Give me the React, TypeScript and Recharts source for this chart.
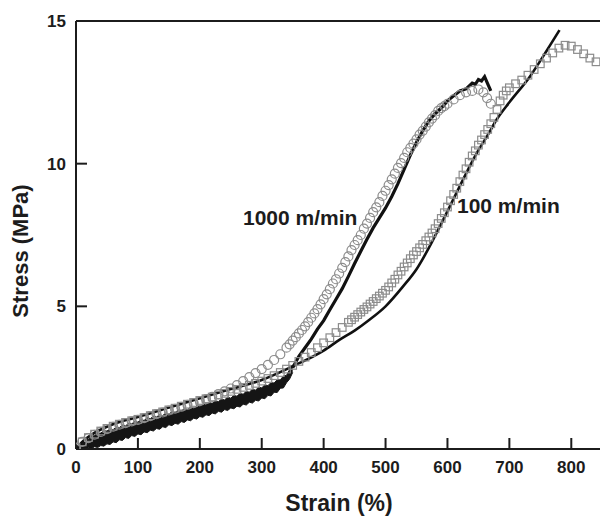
import React from 'react'
import { ComposedChart, Line, Area, XAxis, YAxis } from 'recharts'

// open circles, 1000 m/min sample
const circlePts = [
  [0, 0.05], [10, 0.25], [20, 0.38], [30, 0.5], [40, 0.6], [50, 0.7], [60, 0.78], [70, 0.85],
  [80, 0.91], [90, 0.97], [100, 1.02], [110, 1.08], [120, 1.15], [130, 1.22], [140, 1.28], [150, 1.35],
  [160, 1.41], [170, 1.48], [180, 1.55], [190, 1.61], [200, 1.68], [210, 1.75], [220, 1.83], [230, 1.92],
  [240, 2.02], [250, 2.12], [260, 2.24], [270, 2.38], [280, 2.52], [290, 2.66], [300, 2.8], [310, 2.95],
  [320, 3.12], [330, 3.32], [340, 3.55], [345, 3.67], [350, 3.8], [355, 3.92], [360, 4.05], [365, 4.17],
  [370, 4.3], [375, 4.45], [380, 4.6], [385, 4.75], [390, 4.9], [395, 5.07], [400, 5.25], [405, 5.42],
  [410, 5.6], [415, 5.8], [420, 5.95], [425, 6.15], [430, 6.35], [435, 6.55], [440, 6.75], [445, 6.97],
  [450, 7.15], [455, 7.32], [460, 7.5], [465, 7.72], [470, 7.9], [475, 8.1], [480, 8.3], [485, 8.47],
  [490, 8.65], [495, 8.87], [500, 9.05], [505, 9.25], [510, 9.45], [515, 9.65], [520, 9.85], [525, 10.02],
  [530, 10.2], [535, 10.4], [540, 10.55], [545, 10.7], [550, 10.85], [555, 11.02], [560, 11.15],
  [565, 11.3], [570, 11.45], [575, 11.58], [580, 11.7], [585, 11.85], [590, 11.95], [595, 12.02],
  [600, 12.1], [610, 12.25], [620, 12.4], [630, 12.5], [640, 12.55], [650, 12.6], [658, 12.5],
  [664, 12.3], [670, 12.1],
]

// open squares, 100 m/min sample
const squarePts = [
  [0, 0.05], [10, 0.25], [20, 0.4], [30, 0.52], [40, 0.63], [50, 0.72], [60, 0.8], [70, 0.87],
  [80, 0.93], [90, 0.99], [100, 1.04], [110, 1.1], [120, 1.17], [130, 1.24], [140, 1.3], [150, 1.37],
  [160, 1.43], [170, 1.5], [180, 1.57], [190, 1.63], [200, 1.7], [210, 1.76], [220, 1.82], [230, 1.89],
  [240, 1.95], [250, 2.02], [260, 2.09], [270, 2.16], [280, 2.23], [290, 2.3], [300, 2.38], [310, 2.47],
  [320, 2.57], [330, 2.68], [340, 2.8], [350, 2.93], [360, 3.07], [370, 3.22], [380, 3.38], [390, 3.55],
  [400, 3.72], [410, 3.9], [420, 4.08], [430, 4.26], [440, 4.44], [445, 4.53], [450, 4.62], [455, 4.71],
  [460, 4.8], [465, 4.89], [470, 4.98], [475, 5.08], [480, 5.17], [485, 5.27], [490, 5.36], [495, 5.46],
  [500, 5.56], [505, 5.68], [510, 5.82], [515, 5.95], [520, 6.1], [525, 6.23], [530, 6.38], [535, 6.52],
  [540, 6.67], [545, 6.8], [550, 6.92], [555, 7.05], [560, 7.17], [565, 7.3], [570, 7.43], [575, 7.57],
  [580, 7.72], [585, 7.9], [590, 8.08], [595, 8.28], [600, 8.48], [605, 8.7], [610, 8.92], [615, 9.14],
  [620, 9.37], [625, 9.6], [630, 9.82], [635, 10.05], [640, 10.27], [645, 10.45], [650, 10.65],
  [655, 10.83], [660, 11.02], [665, 11.2], [670, 11.4], [675, 11.62], [680, 11.9], [685, 12.2],
  [690, 12.4], [695, 12.55], [700, 12.66], [710, 12.8], [720, 12.93], [730, 13.1], [740, 13.3],
  [750, 13.5], [760, 13.7], [770, 13.88], [780, 14.05], [790, 14.15], [800, 14.12], [810, 14.0],
  [820, 13.85], [830, 13.7], [840, 13.57],
]

// smooth black line, 100 m/min
const line100 = [
  [0, 0], [10, 0.25], [25, 0.5], [50, 0.78], [75, 0.98], [100, 1.12], [150, 1.45], [200, 1.78],
  [250, 2.1], [300, 2.42], [350, 2.9], [400, 3.45], [426, 3.83], [450, 4.15], [474, 4.53], [500, 5.0],
  [528, 5.69], [550, 6.3], [571, 7.09], [590, 7.9], [609, 8.73], [630, 9.65], [647, 10.36], [665, 11.0],
  [679, 11.53], [700, 12.15], [733, 13.05], [760, 13.95], [781, 14.68],
]

// 1000 m/min, noisy low-strain band: [strain, lower, upper]
const band1000 = [
  [0, 0, 0.05], [5, 0.0, 0.16], [10, 0.02, 0.2], [15, 0.0, 0.3], [20, 0.04, 0.34], [25, 0.02, 0.44],
  [30, 0.08, 0.47], [35, 0.05, 0.55], [40, 0.12, 0.56], [45, 0.1, 0.64], [50, 0.18, 0.63],
  [55, 0.16, 0.7], [60, 0.25, 0.68], [65, 0.22, 0.77], [70, 0.32, 0.75], [75, 0.3, 0.84], [80, 0.4, 0.81],
  [85, 0.37, 0.9], [90, 0.47, 0.88], [95, 0.44, 0.97], [100, 0.53, 0.94], [105, 0.5, 1.03],
  [110, 0.6, 1.0], [115, 0.57, 1.1], [120, 0.66, 1.06], [125, 0.63, 1.15], [130, 0.72, 1.12],
  [135, 0.69, 1.2], [140, 0.78, 1.17], [145, 0.75, 1.26], [150, 0.85, 1.22], [155, 0.82, 1.31],
  [160, 0.9, 1.28], [165, 0.87, 1.36], [170, 0.96, 1.33], [175, 0.93, 1.42], [180, 1.02, 1.38],
  [185, 0.99, 1.47], [190, 1.08, 1.43], [195, 1.05, 1.52], [200, 1.14, 1.49], [205, 1.11, 1.58],
  [210, 1.2, 1.54], [215, 1.17, 1.63], [220, 1.26, 1.6], [225, 1.23, 1.69], [230, 1.32, 1.66],
  [235, 1.29, 1.75], [240, 1.38, 1.72], [245, 1.35, 1.82], [250, 1.44, 1.78], [255, 1.41, 1.88],
  [260, 1.5, 1.85], [265, 1.47, 1.95], [270, 1.57, 1.92], [275, 1.54, 2.02], [280, 1.64, 1.99],
  [285, 1.61, 2.1], [290, 1.71, 2.06], [295, 1.68, 2.17], [300, 1.79, 2.14], [305, 1.76, 2.25],
  [310, 1.88, 2.22], [315, 1.86, 2.33], [320, 1.99, 2.31], [325, 1.98, 2.43], [330, 2.13, 2.42],
  [335, 2.14, 2.56], [340, 2.32, 2.58], [345, 2.45, 2.78], [350, 2.68, 2.95],
]

// 1000 m/min above the band
const line1000 = [
  [350, 2.85], [360, 3.25], [370, 3.55], [380, 3.85], [390, 4.2], [400, 4.5], [410, 4.88], [420, 5.25],
  [430, 5.62], [440, 6.05], [450, 6.5], [460, 6.93], [470, 7.35], [480, 7.75], [490, 8.1], [500, 8.45],
  [510, 8.85], [520, 9.3], [530, 9.8], [540, 10.3], [550, 10.75], [560, 11.15], [570, 11.5], [580, 11.75],
  [590, 11.95], [600, 12.2], [610, 12.38], [620, 12.55], [630, 12.62], [640, 12.82], [645, 12.78],
  [650, 12.95], [655, 12.9], [660, 13.05], [665, 12.8], [670, 12.55],
]

const xMajor = [0, 100, 200, 300, 400, 500, 600, 700, 800]
const xMinor = [50, 150, 250, 350, 450, 550, 650, 750]
const yMajor = [0, 5, 10, 15]
const yMinor = [2.5, 7.5, 12.5]

const toRows = (pts: number[][]) => pts.map(([x, y]) => ({ x, y }))
const bandRows = band1000.map(([x, lo, hi]) => ({ x, r: [lo, hi] }))

const ink = '#1c1c1c'
const font = '"Liberation Sans", Arial, sans-serif'
const xDomain: [number, number] = [0, 848]
const yDomain: [number, number] = [0, 15]

const BottomLabel = ({ x, y, payload }: any) => (
  <text x={x} y={y + 24} textAnchor="middle" fontSize={17} fontWeight="bold" fill={ink} fontFamily={font}>
    {payload.value}
  </text>
)

const LeftLabel = ({ x, y, payload }: any) => (
  <text x={x - 10} y={y + 6} textAnchor="end" fontSize={17} fontWeight="bold" fill={ink} fontFamily={font}>
    {payload.value}
  </text>
)

const circleDot = (p: any) => (
  <circle key={p.key} cx={p.cx} cy={p.cy} r={4.5} fill="none" stroke="#8c8c8c" strokeWidth={1.2} />
)

const squareDot = (p: any) => (
  <rect key={p.key} x={p.cx - 3.8} y={p.cy - 3.8} width={7.6} height={7.6} fill="none" stroke="#8c8c8c" strokeWidth={1.2} />
)

export default function App() {
  const axisLine = { stroke: ink, strokeWidth: 2 }
  const tickLine = { stroke: ink, strokeWidth: 2 }
  return (
    <div style={{ position: 'absolute', left: 0, top: 0, width: 600, height: 517, overflow: 'hidden', background: '#fff' }}>
      <ComposedChart width={620} height={517} margin={{ top: 20, right: 18, bottom: 38, left: 16 }}>
        {/* frame with long inward ticks and the labels */}
        <XAxis xAxisId="b" type="number" dataKey="x" domain={xDomain} ticks={xMajor} allowDataOverflow interval={0}
          height={30} tickSize={-11} tickMargin={11} tickLine={tickLine} axisLine={axisLine} tick={<BottomLabel />} />
        <XAxis xAxisId="t" orientation="top" type="number" domain={xDomain} ticks={xMajor} allowDataOverflow interval={0}
          height={1} tickSize={-11} tickLine={tickLine} axisLine={axisLine} tick={false} />
        <YAxis yAxisId="l" type="number" domain={yDomain} ticks={yMajor} allowDataOverflow interval={0}
          width={60} tickSize={-11} tickMargin={11} tickLine={tickLine} axisLine={axisLine} tick={<LeftLabel />} />
        <YAxis yAxisId="r" orientation="right" type="number" domain={yDomain} ticks={yMajor} allowDataOverflow interval={0}
          width={1} tickSize={-11} tickLine={tickLine} axisLine={axisLine} tick={false} />

        {/* short minor ticks, mirrored so they sit inside the frame */}
        <XAxis xAxisId="bm" mirror type="number" domain={xDomain} ticks={xMinor} allowDataOverflow interval={0}
          height={1} tickSize={5} tickLine={tickLine} tick={false} axisLine={false} />
        <XAxis xAxisId="tm" mirror orientation="top" type="number" domain={xDomain} ticks={xMinor} allowDataOverflow interval={0}
          height={1} tickSize={5} tickLine={tickLine} tick={false} axisLine={false} />
        <YAxis yAxisId="lm" mirror type="number" domain={yDomain} ticks={yMinor} allowDataOverflow interval={0}
          width={1} tickSize={5} tickLine={tickLine} tick={false} axisLine={false} />
        <YAxis yAxisId="rm" mirror orientation="right" type="number" domain={yDomain} ticks={yMinor} allowDataOverflow interval={0}
          width={1} tickSize={5} tickLine={tickLine} tick={false} axisLine={false} />

        <Area xAxisId="b" yAxisId="l" data={bandRows} dataKey="r" type="linear" fill="#151515" fillOpacity={1}
          stroke="#151515" strokeWidth={1} dot={false} activeDot={false} isAnimationActive={false} />
        <Line xAxisId="b" yAxisId="l" data={toRows(squarePts)} dataKey="y" stroke="none" dot={squareDot}
          activeDot={false} isAnimationActive={false} legendType="none" />
        <Line xAxisId="b" yAxisId="l" data={toRows(circlePts)} dataKey="y" stroke="none" dot={circleDot}
          activeDot={false} isAnimationActive={false} legendType="none" />
        <Line xAxisId="b" yAxisId="l" data={toRows(line100)} dataKey="y" type="monotone" stroke="#111"
          strokeWidth={2.6} dot={false} activeDot={false} isAnimationActive={false} />
        <Line xAxisId="b" yAxisId="l" data={toRows(line1000)} dataKey="y" type="linear" stroke="#111"
          strokeWidth={3.2} dot={false} activeDot={false} isAnimationActive={false} />
      </ComposedChart>

      <svg width={600} height={517} style={{ position: 'absolute', left: 0, top: 0, pointerEvents: 'none' }}>
        <g fontFamily={font} fontWeight="bold" fill={ink}>
          <text x={243} y={225} fontSize={21}>1000 m/min</text>
          <text x={457} y={213} fontSize={21}>100 m/min</text>
          <text x={339} y={511} fontSize={23} textAnchor="middle">Strain (%)</text>
          <text x={0} y={0} fontSize={22} textAnchor="middle" transform="translate(28 251) rotate(-90)">Stress (MPa)</text>
        </g>
      </svg>
    </div>
  )
}
